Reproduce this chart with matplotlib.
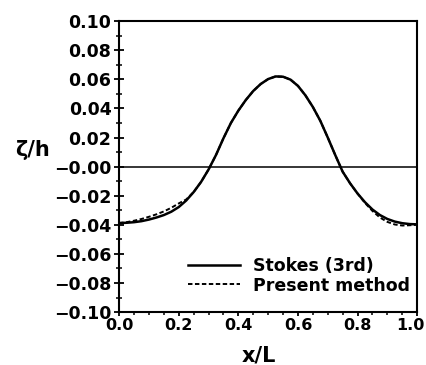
import numpy as np
import matplotlib
matplotlib.use('Agg')
from matplotlib import pyplot as plt
from matplotlib import transforms

# values
x_stokes = [0.000, 0.025, 0.050, 0.075, 0.100, 0.125, 0.150, 0.175, 0.200,
            0.225, 0.250, 0.275, 0.300, 0.325, 0.350, 0.375, 0.400, 0.425,
            0.450, 0.475, 0.500, 0.525, 0.550, 0.575, 0.600, 0.625, 0.650,
            0.675, 0.700, 0.725, 0.750, 0.775, 0.800, 0.825, 0.850, 0.875,
            0.900, 0.925, 0.950, 0.975, 1.000]
eta_stokes = [-0.0388, -0.0386, -0.0382, -0.0375, -0.0364, -0.0350, -0.0333,
              -0.0310, -0.0278, -0.0233, -0.0175, -0.0105, -0.0020, 0.0080,
              0.0195, 0.0300, 0.0385, 0.0458, 0.0520, 0.0568, 0.0602, 0.0620,
              0.0618, 0.0598, 0.0555, 0.0490, 0.0410, 0.0315, 0.0200, 0.0080,
              -0.0035, -0.0115, -0.0185, -0.0245, -0.0295, -0.0333, -0.0360,
              -0.0378, -0.0389, -0.0395, -0.0397]

x_present = [0.000, 0.025, 0.050, 0.075, 0.100, 0.125, 0.150, 0.175, 0.200,
             0.225, 0.250, 0.275, 0.300, 0.325, 0.350, 0.375, 0.400, 0.425,
             0.450, 0.475, 0.500, 0.525, 0.550, 0.575, 0.600, 0.625, 0.650,
             0.675, 0.700, 0.725, 0.750, 0.775, 0.800, 0.825, 0.850, 0.875,
             0.900, 0.925, 0.950, 0.975, 1.000]
eta_present = [-0.0388, -0.0382, -0.0372, -0.0360, -0.0345, -0.0328, -0.0308,
               -0.0283, -0.0253, -0.0226, -0.0175, -0.0105, -0.0020, 0.0080,
               0.0195, 0.0300, 0.0385, 0.0458, 0.0520, 0.0568, 0.0602, 0.0620,
               0.0618, 0.0598, 0.0555, 0.0490, 0.0410, 0.0315, 0.0200, 0.0080,
               -0.0035, -0.0115, -0.0185, -0.0250, -0.0305, -0.0350, -0.0380,
               -0.0398, -0.0405, -0.0403, -0.0400]

labels = ['Stokes (3rd)', 'Present method']
y_ticks = [-0.10, -0.08, -0.06, -0.04, -0.02, 0.00, 0.02, 0.04, 0.06, 0.08, 0.10]
y_ticklabels = ['\u22120.10', '\u22120.08', '\u22120.06', '\u22120.04',
                '\u22120.02', '\u22120.00', '0.02', '0.04', '0.06', '0.08',
                '0.10']
x_ticks = [0.0, 0.2, 0.4, 0.6, 0.8, 1.0]
x_ticklabels = ['0.0', '0.2', '0.4', '0.6', '0.8', '1.0']


def main():
    plt.rcParams['font.family'] = ['DejaVu Sans']
    plt.rcParams['font.weight'] = 'bold'
    plt.rcParams['lines.scale_dashes'] = False

    fig = plt.figure(figsize=(4.27, 3.65), dpi=100)
    ax = fig.add_axes([0.279, 0.145, 0.698, 0.797])

    ax.axhline(0.0, color='black', lw=1.1)
    ax.plot(x_stokes, eta_stokes, color='black', lw=1.8, label=labels[0])
    ax.plot(x_present, eta_present, color='black', lw=1.4,
            dashes=(3.2, 1.8), label=labels[1])

    ax.set_xlim(0.0, 1.0)
    ax.set_ylim(-0.10, 0.10)
    ax.set_xticks(x_ticks)
    ax.set_xticklabels(x_ticklabels)
    ax.set_yticks(y_ticks)
    ax.set_yticklabels(y_ticklabels)
    ax.set_xticks(np.arange(0.0, 1.0001, 0.05), minor=True)
    ax.set_yticks(np.arange(-0.10, 0.1001, 0.01), minor=True)

    for s in ax.spines.values():
        s.set_linewidth(1.5)
    ax.tick_params(axis='y', which='major', direction='inout', length=7,
                   width=1.3, labelsize=12.5, pad=2)
    ax.tick_params(axis='y', which='minor', direction='inout', length=4,
                   width=1.1)
    ax.tick_params(axis='x', which='major', direction='out', length=3,
                   width=1.3, labelsize=11.5, pad=1)
    ax.tick_params(axis='x', which='minor', direction='out', length=2,
                   width=1.1)

    # last x label sits right at the figure edge, nudge it in a little
    last = ax.get_xticklabels()[-1]
    last.set_transform(last.get_transform() +
                       transforms.ScaledTranslation(-5 / 72, 0,
                                                    fig.dpi_scale_trans))

    ax.text(-0.29, 0.557, '\u03b6/h', transform=ax.transAxes, fontsize=15,
            fontweight='bold', ha='center', va='center')
    ax.text(0.47, -0.148, 'x/L', transform=ax.transAxes, fontsize=15,
            fontweight='bold', ha='center', va='center')

    ax.legend(loc='upper left', bbox_to_anchor=(0.232, 0.19), frameon=False,
              fontsize=12.5, handlelength=3.0, handletextpad=0.7,
              labelspacing=0.1, borderpad=0, borderaxespad=0)

    plt.savefig('out.png', dpi=100)


if __name__ == '__main__':
    main()
